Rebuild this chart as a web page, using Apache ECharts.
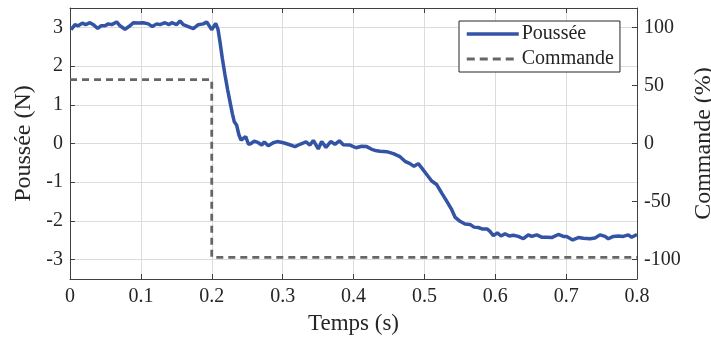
<!DOCTYPE html>
<html>
<head>
<meta charset="utf-8">
<script src="https://cdn.jsdelivr.net/npm/echarts@6/dist/echarts.min.js"></script>
<style>
html,body{margin:0;padding:0;background:#fff;}
#chart{width:711px;height:345px;}
</style>
</head>
<body>
<div id="chart"></div>
<script>
// ---- Data ----
const pousseeTime = [0.0014,0.0071,0.0117,0.0174,0.0222,0.0282,0.0329,0.0391,0.0437,0.0494,0.0540,0.0588,0.0659,0.0705,0.0776,0.0847,0.0893,0.0964,0.1034,0.1105,0.1161,0.1223,0.1270,0.1340,0.1397,0.1435,0.1505,0.1552,0.1598,0.1669,0.1740,0.1810,0.1881,0.1929,0.1998,0.2056,0.2088,0.2116,0.2149,0.2187,0.2225,0.2257,0.2290,0.2318,0.2352,0.2384,0.2413,0.2445,0.2479,0.2518,0.2554,0.2600,0.2657,0.2705,0.2741,0.2798,0.2868,0.2925,0.3010,0.3080,0.3175,0.3245,0.3330,0.3386,0.3433,0.3503,0.3551,0.3612,0.3678,0.3739,0.3800,0.3856,0.3951,0.4035,0.4116,0.4186,0.4257,0.4327,0.4374,0.4469,0.4562,0.4656,0.4727,0.4797,0.4854,0.4914,0.4962,0.5033,0.5103,0.5174,0.5245,0.5315,0.5386,0.5432,0.5503,0.5573,0.5644,0.5700,0.5761,0.5823,0.5888,0.5926,0.5973,0.6029,0.6081,0.6138,0.6198,0.6254,0.6325,0.6396,0.6466,0.6514,0.6585,0.6655,0.6726,0.6797,0.6890,0.6960,0.7008,0.7093,0.7172,0.7242,0.7337,0.7407,0.7478,0.7549,0.7595,0.7666,0.7736,0.7807,0.7877,0.7925,0.8000];
const pousseeValues = [2.94,3.07,3.04,3.11,3.07,3.12,3.07,2.97,3.04,3.04,3.09,3.07,3.14,3.04,2.95,3.04,3.12,3.11,3.12,3.09,3.02,3.09,3.07,3.12,3.07,3.12,3.07,3.17,3.07,3.02,2.97,3.07,3.09,3.14,2.94,3.10,2.95,2.63,2.20,1.77,1.38,1.08,0.78,0.56,0.47,0.22,0.09,0.13,0.18,-0.02,0.00,0.06,0.02,-0.04,0.04,-0.06,0.02,0.05,0.02,-0.02,-0.08,-0.02,0.04,-0.04,0.08,-0.14,0.05,-0.10,0.05,-0.02,0.07,-0.03,-0.04,-0.11,-0.07,-0.08,-0.15,-0.19,-0.20,-0.21,-0.26,-0.34,-0.46,-0.52,-0.59,-0.52,-0.63,-0.80,-0.97,-1.06,-1.28,-1.49,-1.71,-1.90,-2.01,-2.08,-2.09,-2.16,-2.17,-2.21,-2.21,-2.27,-2.38,-2.31,-2.39,-2.33,-2.39,-2.37,-2.40,-2.46,-2.36,-2.40,-2.36,-2.42,-2.42,-2.43,-2.35,-2.40,-2.40,-2.49,-2.43,-2.45,-2.46,-2.44,-2.36,-2.40,-2.46,-2.40,-2.39,-2.40,-2.36,-2.42,-2.35];
const commandeTime = [0, 0.2, 0.2, 0.8];
const commandeValues = [55, 55, -98, -98];
const seriesNames = ['Poussée', 'Commande'];
const xName = 'Temps (s)';
const yLeftName = 'Poussée (N)';
const yRightName = 'Commande (%)';
const rightTickValues = [-100, -50, 0, 50, 100];

const font = "'Liberation Serif','DejaVu Serif',serif";
const axisColor = '#404040';
const textColor = '#262626';
const pousseeColor = '#3353a4';
const commandeColor = '#666666';

const chart = echarts.init(document.getElementById('chart'), null, {renderer: 'canvas'});
const option = {
  animation: false,
  backgroundColor: '#fff',
  grid: {left: 70, right: 74, top: 8, bottom: 66, containLabel: false, outerBoundsMode: 'none'},
  legend: {
    data: [
      {name: seriesNames[0], lineStyle: {width: 3.5, color: pousseeColor}},
      {name: seriesNames[1], lineStyle: {width: 3, color: commandeColor, type: [8, 5]}}
    ],
    orient: 'vertical',
    left: 459, top: 21,
    backgroundColor: '#fff',
    borderColor: '#262626', borderWidth: 1, borderRadius: 0,
    padding: [3, 6, 3, 6],
    itemGap: 5,
    itemWidth: 52, itemHeight: 14,
    itemStyle: {opacity: 0},
    textStyle: {fontFamily: font, fontSize: 20, color: textColor, lineHeight: 20, padding: [0,0,0,-2]}
  },
  xAxis: [{
    type: 'value', min: 0, max: 0.8, interval: 0.1,
    name: xName, nameLocation: 'middle', nameGap: 33,
    nameTextStyle: {fontFamily: font, fontSize: 23, color: textColor},
    axisLine: {show: true, onZero: false, lineStyle: {color: axisColor, width: 1}},
    axisTick: {show: true, inside: true, length: 5, lineStyle: {color: axisColor}},
    axisLabel: {fontFamily: font, fontSize: 20, color: textColor, margin: 8},
    splitLine: {show: true, lineStyle: {color: '#dcdcdc', width: 1}}
  }, {
    type: 'value', min: 0, max: 0.8, interval: 0.1, position: 'top',
    axisLine: {show: true, onZero: false, lineStyle: {color: axisColor, width: 1}},
    axisTick: {show: true, inside: true, length: 5, lineStyle: {color: axisColor}},
    axisLabel: {show: false},
    splitLine: {show: false}
  }],
  yAxis: [{
    type: 'value', min: -3.5, max: 3.5, splitNumber: 7,
    name: yLeftName, nameLocation: 'middle', nameGap: 31,
    nameTextStyle: {fontFamily: font, fontSize: 24, color: textColor},
    axisLine: {show: true, onZero: false, lineStyle: {color: axisColor, width: 1}},
    axisTick: {show: true, inside: true, length: 5, lineStyle: {color: axisColor}},
    axisLabel: {fontFamily: font, fontSize: 20, color: textColor, margin: 7, showMinLabel: false, showMaxLabel: false},
    splitLine: {show: true, lineStyle: {color: '#dcdcdc', width: 1}}
  }, {
    type: 'value', min: -350/3, max: 350/3, position: 'right',
    name: yRightName, nameLocation: 'middle', nameGap: 50,
    nameTextStyle: {fontFamily: font, fontSize: 24, color: textColor},
    axisLine: {show: true, onZero: false, lineStyle: {color: axisColor, width: 1}},
    axisTick: {show: true, inside: true, length: 5, lineStyle: {color: axisColor}, customValues: rightTickValues},
    axisLabel: {fontFamily: font, fontSize: 20, color: textColor, margin: 7, customValues: rightTickValues},
    splitLine: {show: false}
  }],
  series: [{
    name: seriesNames[0], type: 'line', xAxisIndex: 0, yAxisIndex: 0,
    symbol: 'none', smooth: false,
    lineStyle: {color: pousseeColor, width: 3.5},
    itemStyle: {color: pousseeColor},
    data: pousseeTime.map((t, i) => [t, pousseeValues[i]]),
    z: 3
  }, {
    name: seriesNames[1], type: 'line', xAxisIndex: 0, yAxisIndex: 1,
    symbol: 'none', smooth: false,
    lineStyle: {color: commandeColor, width: 2.8, type: [7, 5]},
    itemStyle: {color: commandeColor},
    data: commandeTime.map((t, i) => [t, commandeValues[i]]),
    z: 2
  }]
};
chart.setOption(option);
</script>
</body>
</html>
